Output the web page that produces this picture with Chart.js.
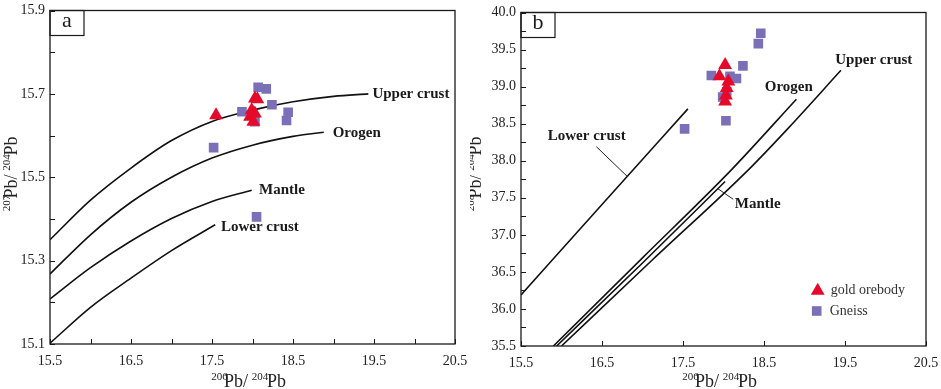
<!DOCTYPE html>
<html>
<head>
<meta charset="utf-8">
<script src="https://cdn.jsdelivr.net/npm/chart.js@4.4.0/dist/chart.umd.min.js"></script>
<style>
  html, body { margin: 0; padding: 0; background: #fff; }
  #wrap { position: relative; width: 941px; height: 389px; }
  .panel { position: absolute; top: 0; }
  #pa { left: 0; }
  #pb { left: 470px; }
</style>
</head>
<body>
<div id="wrap">
  <div class="panel" id="pa"><canvas id="chartA" width="470" height="389"></canvas></div>
  <div class="panel" id="pb"><canvas id="chartB" width="471" height="389"></canvas></div>
</div>
<script>
// --- panel a : 207Pb/204Pb vs 206Pb/204Pb ---
const aUpperX  = [15.5, 16.0, 16.5, 17.0, 17.5, 18.0, 18.5, 19.0, 19.43];
const aUpperY  = [15.350, 15.445, 15.522, 15.588, 15.634, 15.661, 15.681, 15.694, 15.700];
const aOrogenX = [15.5, 16.0, 16.5, 17.0, 17.5, 18.0, 18.5, 18.88];
const aOrogenY = [15.268, 15.362, 15.440, 15.500, 15.546, 15.577, 15.598, 15.608];
const aMantleX = [15.5, 16.0, 16.5, 17.0, 17.5, 17.99];
const aMantleY = [15.208, 15.283, 15.347, 15.401, 15.442, 15.469];
const aLowerX  = [15.5, 16.0, 16.5, 17.0, 17.54];
const aLowerY  = [15.102, 15.188, 15.258, 15.324, 15.386];

const goldAX   = [17.55, 18.03, 18.06, 17.99, 18.03, 17.97, 18.01];
const goldAY   = [15.649, 15.689, 15.687, 15.661, 15.653, 15.645, 15.633];
const gneissAX = [17.52, 17.87, 18.07, 18.17, 18.24, 18.44, 18.42, 18.03, 18.05];
const gneissAY = [15.571, 15.657, 15.716, 15.712, 15.674, 15.656, 15.636, 15.633, 15.405];

// --- panel b : 208Pb/204Pb vs 206Pb/204Pb ---
const bLowerX  = [15.5, 16.5, 17.56];
const bLowerY  = [36.19, 37.41, 38.70];
const bOrogenX = [15.90, 17.0, 18.10, 18.90];
const bOrogenY = [35.50, 36.69, 37.88, 38.83];
const bMantleX = [15.94, 17.0, 18.02];
const bMantleY = [35.50, 36.62, 37.72];
const bUpperX  = [16.00, 17.13, 18.31, 18.80, 19.45];
const bUpperY  = [35.50, 36.67, 37.88, 38.44, 39.22];

const goldBX   = [18.02, 17.95, 18.06, 18.04, 18.03, 18.02];
const goldBY   = [39.29, 39.14, 39.07, 38.98, 38.88, 38.80];
const gneissBX = [17.52, 17.85, 18.08, 18.16, 18.24, 18.43, 18.46, 17.99, 18.03, 18.04];
const gneissBY = [38.43, 39.15, 39.14, 39.11, 39.28, 39.58, 39.72, 38.86, 38.54, 38.93];

// tick labels
const xTickLabels  = [15.5, 16.5, 17.5, 18.5, 19.5, 20.5];
const yTickLabelsA = [15.1, 15.3, 15.5, 15.7, 15.9];
const yTickLabelsB = [35.5, 36.0, 36.5, 37.0, 37.5, 38.0, 38.5, 39.0, 39.5, 40.0];

const SERIF = '"Liberation Serif", "Times New Roman", serif';
const RED = '#e60a2a';
const PURPLE = '#7a70b8';

const zip = (xs, ys) => xs.map((x, i) => ({ x: x, y: ys[i] }));

function curve(xs, ys) {
  return {
    data: zip(xs, ys), showLine: true, borderColor: '#111', borderWidth: 1.6,
    pointRadius: 0, cubicInterpolationMode: 'monotone', fill: false
  };
}

function drawPbTitle(ctx, s1, s2, cx, cy, rot) {
  const parts = [[s1, '11px ' + SERIF, -7], ['Pb/', '18px ' + SERIF, 0], [s2, '11px ' + SERIF, -7], ['Pb', '18px ' + SERIF, 0]];
  ctx.save();
  ctx.translate(cx, cy);
  ctx.rotate(rot);
  ctx.fillStyle = '#222';
  ctx.textBaseline = 'alphabetic';
  let w = 0;
  parts.forEach(p => { ctx.font = p[1]; w += ctx.measureText(p[0]).width; });
  let x = -w / 2;
  parts.forEach(p => { ctx.font = p[1]; ctx.fillText(p[0], x, p[2]); x += ctx.measureText(p[0]).width; });
  ctx.restore();
}

// frame, inward ticks, curve labels, panel letter, axis titles, legend
const decor = {
  id: 'decor',
  afterDraw(chart, args, o) {
    const ctx = chart.ctx, a = chart.chartArea, sx = chart.scales.x, sy = chart.scales.y;
    ctx.save();
    ctx.strokeStyle = '#1a1a1a';
    ctx.lineWidth = 1.3;
    ctx.strokeRect(a.left, a.top, a.right - a.left, a.bottom - a.top);

    ctx.lineWidth = 1;
    ctx.beginPath();
    for (let v = sx.min; v <= sx.max + 1e-9; v += o.xStep) {
      const px = Math.round(sx.getPixelForValue(v)) + 0.5;
      ctx.moveTo(px, a.bottom); ctx.lineTo(px, a.bottom - 5);
    }
    for (let v = sy.min; v <= sy.max + 1e-9; v += o.yStep) {
      const py = Math.round(sy.getPixelForValue(v)) + 0.5;
      ctx.moveTo(a.left, py); ctx.lineTo(a.left + 5, py);
    }
    ctx.stroke();

    // leader lines
    ctx.strokeStyle = '#222';
    (o.leaders || []).forEach(l => {
      ctx.beginPath();
      ctx.moveTo(sx.getPixelForValue(l[0]), sy.getPixelForValue(l[1]));
      ctx.lineTo(sx.getPixelForValue(l[2]), sy.getPixelForValue(l[3]));
      ctx.stroke();
    });

    // curve labels
    ctx.fillStyle = '#1a1a1a';
    ctx.font = 'bold 15px ' + SERIF;
    ctx.textAlign = 'left';
    ctx.textBaseline = 'middle';
    o.labels.forEach(l => ctx.fillText(l.t, sx.getPixelForValue(l.x), sy.getPixelForValue(l.y)));

    // panel letter box
    ctx.lineWidth = 1.2;
    ctx.strokeStyle = '#1a1a1a';
    ctx.strokeRect(a.left, a.top, 34, 25);
    ctx.font = '22px ' + SERIF;
    ctx.textAlign = 'center';
    ctx.fillText(o.letter, a.left + 17, a.top + 11);

    // axis titles
    drawPbTitle(ctx, '206', '204', (a.left + a.right) / 2 + 5, 387, 0);
    drawPbTitle(ctx, o.ySup, '204', o.yTitleX, 165, -Math.PI / 2);

    // legend
    if (o.legend) {
      const H = Chart.helpers;
      ctx.font = '14px ' + SERIF;
      ctx.textAlign = 'left';
      o.legend.forEach(it => {
        ctx.fillStyle = it.color;
        H.drawPoint(ctx, { pointStyle: it.style, radius: it.r, borderWidth: 0 }, it.x, it.y);
        ctx.fillStyle = '#333';
        ctx.fillText(it.t, it.x + 13, it.y);
      });
    }
    ctx.restore();
  }
};

function makeChart(id, cfg) {
  return new Chart(document.getElementById(id), {
    type: 'scatter',
    data: {
      datasets: [
        { data: zip(cfg.goldX, cfg.goldY), pointStyle: 'triangle', pointRadius: 8, backgroundColor: RED, borderWidth: 0 },
        { data: zip(cfg.gneissX, cfg.gneissY), pointStyle: 'rect', pointRadius: 6.8, backgroundColor: PURPLE, borderWidth: 0 }
      ].concat(cfg.curves)
    },
    options: {
      responsive: false,
      animation: false,
      events: [],
      layout: { padding: { left: 0, right: cfg.padRight, top: cfg.padTop, bottom: 0 } },
      plugins: {
        legend: { display: false },
        tooltip: { enabled: false },
        decor: cfg.decor
      },
      scales: {
        x: {
          type: 'linear', min: 15.5, max: 20.5,
          grid: { display: false, drawTicks: false },
          border: { display: false },
          afterBuildTicks: s => { s.ticks = xTickLabels.map(v => ({ value: v })); },
          afterFit: s => { s.height = cfg.xHeight; s.paddingLeft = 0; s.paddingRight = 0; },
          ticks: { autoSkip: false, maxRotation: 0, padding: 9, color: '#222', font: { family: SERIF, size: 14 }, callback: v => v.toFixed(1) }
        },
        y: {
          type: 'linear', min: cfg.yMin, max: cfg.yMax,
          grid: { display: false, drawTicks: false },
          border: { display: false },
          afterBuildTicks: s => { s.ticks = cfg.yTicks.map(v => ({ value: v })); },
          afterFit: s => { s.width = cfg.yWidth; s.paddingTop = 0; s.paddingBottom = 0; },
          ticks: { autoSkip: false, padding: 5, color: '#222', font: { family: SERIF, size: 14 }, callback: v => v.toFixed(1) }
        }
      }
    },
    plugins: [decor]
  });
}

makeChart('chartA', {
  goldX: goldAX, goldY: goldAY, gneissX: gneissAX, gneissY: gneissAY,
  curves: [curve(aUpperX, aUpperY), curve(aOrogenX, aOrogenY), curve(aMantleX, aMantleY), curve(aLowerX, aLowerY)],
  yMin: 15.1, yMax: 15.9, yTicks: yTickLabelsA,
  padRight: 15, padTop: 10.5, xHeight: 45, yWidth: 50,
  decor: {
    xStep: 0.5, yStep: 0.1, letter: 'a', ySup: '207', yTitleX: 17,
    labels: [
      { t: 'Upper crust', x: 19.48, y: 15.700 },
      { t: 'Orogen', x: 18.99, y: 15.607 },
      { t: 'Mantle', x: 18.08, y: 15.468 },
      { t: 'Lower crust', x: 17.61, y: 15.381 }
    ]
  }
});

makeChart('chartB', {
  goldX: goldBX, goldY: goldBY, gneissX: gneissBX, gneissY: gneissBY,
  curves: [curve(bLowerX, bLowerY), curve(bOrogenX, bOrogenY), curve(bMantleX, bMantleY), curve(bUpperX, bUpperY)],
  yMin: 35.5, yMax: 40.0, yTicks: yTickLabelsB,
  padRight: 15, padTop: 12.5, xHeight: 43, yWidth: 51,
  decor: {
    xStep: 1.0, yStep: 0.25, letter: 'b', ySup: '208', yTitleX: 11,
    labels: [
      { t: 'Upper crust', x: 19.38, y: 39.36 },
      { t: 'Orogen', x: 18.51, y: 38.99 },
      { t: 'Mantle', x: 18.14, y: 37.42 },
      { t: 'Lower crust', x: 15.83, y: 38.335 }
    ],
    leaders: [[16.43, 38.19, 16.81, 37.79], [18.12, 37.48, 17.92, 37.63]],
    legend: [
      { t: 'gold orebody', style: 'triangle', r: 8, color: RED, x: 347.7, y: 290.7 },
      { t: 'Gneiss', style: 'rect', r: 6.8, color: PURPLE, x: 346.7, y: 311 }
    ]
  }
});
</script>
</body>
</html>
